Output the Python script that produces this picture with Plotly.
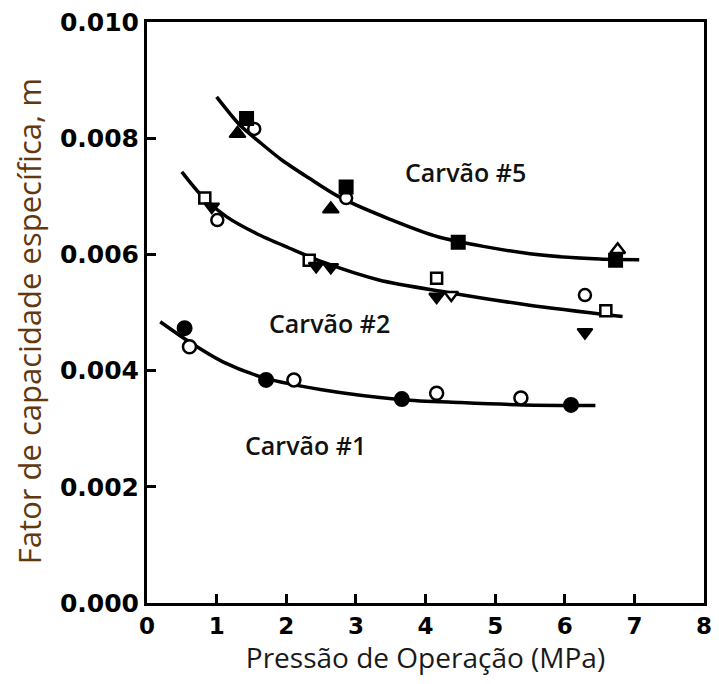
import plotly.graph_objects as go

# ---- data ----
# fitted curves
c5_x = [1.0, 1.33, 1.61, 1.94, 2.33, 2.76, 3.5, 4.19, 5.5, 6.5, 7.07]
c5_y = [0.00871, 0.00823, 0.00794, 0.00762, 0.00731, 0.00699, 0.00660, 0.00630, 0.00601, 0.00592, 0.00591]
c2_x = [0.5, 0.8, 1.14, 1.57, 2.04, 2.52, 3.33, 4.3, 5.47, 6.83]
c2_y = [0.00742, 0.00699, 0.00665, 0.00636, 0.00611, 0.00587, 0.00556, 0.00535, 0.00513, 0.00493]
c1_x = [0.19, 0.6, 1.09, 1.7, 2.51, 3.66, 4.5, 5.4, 6.44]
c1_y = [0.00484, 0.00450, 0.00415, 0.00387, 0.00367, 0.00350, 0.00345, 0.00341, 0.00340]

# Carvão #5 markers
c5_sq_x = [1.43, 2.86, 4.47, 6.73]
c5_sq_y = [0.00834, 0.00716, 0.00621, 0.00590]
c5_tri_x = [1.30, 2.64]
c5_tri_y = [0.00808, 0.00678]
c5_oc_x = [1.54, 2.86]
c5_oc_y = [0.00816, 0.00697]
c5_otri_x = [6.76]
c5_otri_y = [0.00608]

# Carvão #2 markers
c2_osq_x = [0.83, 2.33, 4.16, 6.59]
c2_osq_y = [0.00697, 0.00590, 0.00559, 0.00503]
c2_dtri_x = [0.93, 2.43, 2.64, 4.16, 6.29]
c2_dtri_y = [0.00682, 0.00580, 0.00578, 0.00527, 0.00466]
c2_oc_x = [1.01, 6.29]
c2_oc_y = [0.00659, 0.00530]
c2_odtri_x = [4.37]
c2_odtri_y = [0.00530]

# Carvão #1 markers
c1_fc_x = [0.54, 1.71, 3.66, 6.09]
c1_fc_y = [0.00473, 0.00384, 0.00351, 0.00341]
c1_oc_x = [0.61, 2.11, 4.16, 5.37]
c1_oc_y = [0.00441, 0.00384, 0.00361, 0.00353]

x_ticks = [0, 1, 2, 3, 4, 5, 6, 7, 8]
y_ticks = [0.000, 0.002, 0.004, 0.006, 0.008, 0.010]
y_tick_text = ["0.000", "0.002", "0.004", "0.006", "0.008", "0.010"]

labels = ["Carvão #5", "Carvão #2", "Carvão #1"]
label_x = [4.57, 2.62, 2.27]
label_y = [0.00742, 0.00482, 0.00272]

x_title = "Pressão de Operação (MPa)"
y_title = "Fator de capacidade específica, m"

fig = go.Figure()
for cx, cy in [(c5_x, c5_y), (c2_x, c2_y), (c1_x, c1_y)]:
    fig.add_trace(go.Scatter(x=cx, y=cy, mode="lines",
                             line=dict(color="black", width=3.5, shape="spline", smoothing=0.8),
                             hoverinfo="skip"))

def pts(x, y, symbol, size=13):
    fig.add_trace(go.Scatter(x=x, y=y, mode="markers",
                             marker=dict(symbol=symbol, size=size, color="black",
                                         line=dict(color="black", width=2))))

def opts(x, y, symbol, size=12):
    fig.add_trace(go.Scatter(x=x, y=y, mode="markers",
                             marker=dict(symbol=symbol, size=size, color="white",
                                         line=dict(color="black", width=2.5))))

opts(c5_oc_x, c5_oc_y, "circle")
opts(c5_otri_x, c5_otri_y, "triangle-up", 13)
pts(c5_sq_x, c5_sq_y, "square", 13)
pts(c5_tri_x, c5_tri_y, "triangle-up", 14)

opts(c2_osq_x, c2_osq_y, "square", 11)
opts(c2_oc_x, c2_oc_y, "circle", 12)
opts(c2_odtri_x, c2_odtri_y, "triangle-down", 12)
pts(c2_dtri_x, c2_dtri_y, "triangle-down", 13)

pts(c1_fc_x, c1_fc_y, "circle", 14)
opts(c1_oc_x, c1_oc_y, "circle", 13)

for t, lx, ly in zip(labels, label_x, label_y):
    fig.add_annotation(x=lx, y=ly, text=t, showarrow=False,
                       font=dict(family="Open Sans", size=25, color="#111111", weight=600))

# y-axis title as a rotated annotation for exact placement
fig.add_annotation(xref="paper", yref="paper", x=-0.212, y=0.485, text=y_title,
                   textangle=-90, showarrow=False, xanchor="center", yanchor="middle",
                   font=dict(family="Open Sans", size=31, color="#64380f", weight=500))

# page body adds 8px margin on each side; the figure fits the 719x684 window
fig.update_layout(
    width=703, height=668,
    margin=dict(l=139, r=7, t=14, b=73),
    paper_bgcolor="white", plot_bgcolor="white",
    showlegend=False,
)
fig.update_xaxes(range=[0, 8], tickvals=x_ticks, ticktext=[str(v) for v in x_ticks],
                 ticks="inside", ticklen=9, tickwidth=2.5, tickcolor="black",
                 showline=True, linewidth=3, linecolor="black", mirror=True,
                 showgrid=False, zeroline=False, automargin=False,
                 ticklabeloverflow="allow",
                 tickfont=dict(family="DejaVu Sans", size=23, color="black", weight="bold"),
                 title=dict(text=x_title, standoff=15,
                            font=dict(family="Open Sans", size=28, color="#1a1a1a", weight=500)))
fig.update_yaxes(range=[0, 0.010], tickvals=y_ticks, ticktext=y_tick_text,
                 ticks="inside", ticklen=9, tickwidth=2.5, tickcolor="black",
                 showline=True, linewidth=3, linecolor="black", mirror=True,
                 showgrid=False, zeroline=False, automargin=False,
                 ticklabeloverflow="allow",
                 tickfont=dict(family="DejaVu Sans", size=25, color="black", weight="bold"))

fig.write_html("out.html")
